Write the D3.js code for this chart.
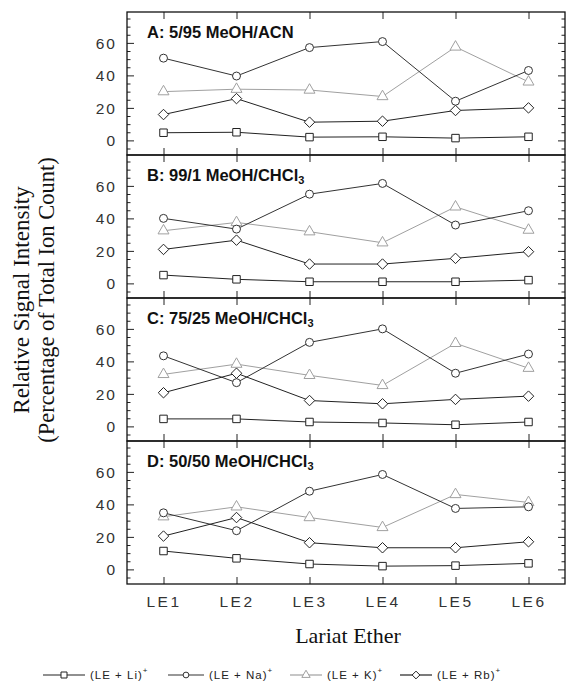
<!DOCTYPE html>
<html><head><meta charset="utf-8">
<script src="https://cdn.jsdelivr.net/npm/d3@7"></script>
<style>
html,body{margin:0;padding:0;background:#fff;}
svg{display:block;}
</style></head>
<body>
<svg id="chart" width="568" height="685"></svg>
<script>
// ---------- data ----------
const categories = ["LE1", "LE2", "LE3", "LE4", "LE5", "LE6"];
const panelLabels = ["A: 5/95 MeOH/ACN", "B: 99/1 MeOH/CHCl", "C: 75/25 MeOH/CHCl", "D: 50/50 MeOH/CHCl"];
const panelSubscripts = ["", "3", "3", "3"];
const seriesNames = ["Li", "Na", "K", "Rb"];
const legendLabels = ["(LE + Li)", "(LE + Na)", "(LE + K)", "(LE + Rb)"];
const yMajorTicks = [0, 20, 40, 60];

// Panel A: 5/95 MeOH/ACN
const liA = [4.7, 5.0, 2.0, 2.2, 1.4, 2.2];
const naA = [50.6, 39.6, 57.1, 60.8, 24.1, 43.0];
const kA  = [30.0, 31.5, 31.0, 27.0, 57.5, 36.0];
const rbA = [15.9, 25.7, 11.2, 11.8, 18.4, 20.0];
// Panel B: 99/1 MeOH/CHCl3
const liB = [5.1, 2.5, 1.0, 1.0, 1.0, 2.0];
const naB = [40.0, 33.4, 54.9, 61.5, 35.9, 44.7];
const kB  = [32.4, 37.5, 31.8, 25.0, 47.1, 32.8];
const rbB = [20.9, 26.6, 11.9, 11.9, 15.4, 19.5];
// Panel C: 75/25 MeOH/CHCl3
const liC = [4.6, 4.6, 2.7, 2.1, 1.0, 2.7];
const naC = [43.4, 26.9, 51.7, 60.0, 32.7, 44.5];
const kC  = [32.0, 38.3, 31.4, 25.2, 51.1, 35.8];
const rbC = [20.7, 32.7, 15.9, 13.9, 16.6, 18.6];
// Panel D: 50/50 MeOH/CHCl3
const liD = [11.3, 6.8, 3.3, 2.0, 2.3, 3.7];
const naD = [34.8, 23.8, 48.1, 58.4, 37.5, 38.5];
const kD  = [32.4, 38.5, 31.9, 25.8, 46.1, 41.2];
const rbD = [20.5, 31.9, 16.4, 13.3, 13.3, 17.0];

const panelData = [
  [liA, naA, kA, rbA],
  [liB, naB, kB, rbB],
  [liC, naC, kC, rbC],
  [liD, naD, kD, rbD]
];

// ---------- styles ----------
const seriesColor = {Li: "#222", Na: "#333", K: "#a0a0a0", Rb: "#222"};
const diamond = {draw(ctx, size){ const r = Math.sqrt(size)/2; ctx.moveTo(0,-r); ctx.lineTo(r,0); ctx.lineTo(0,r); ctx.lineTo(-r,0); ctx.closePath(); }};
const seriesSymbol = {Li: d3.symbolSquare, Na: d3.symbolCircle, K: d3.symbolTriangle, Rb: diamond};
const seriesSize = {Li: 56, Na: 50, K: 52, Rb: 110};
const legendSize = {Li: 36, Na: 26, K: 30, Rb: 60};

const svg = d3.select("#chart");
const pLeft = 127, pRight = 565, pTop = 12, pBottom = 584;
const nP = 4, ph = (pBottom - pTop) / nP;

const x = d3.scalePoint().domain(categories).range([pLeft, pRight]).padding(0.5);

panelData.forEach((pd, pi) => {
  const py0 = pTop + pi * ph, py1 = py0 + ph;
  const y = d3.scaleLinear().domain([-9, 79]).range([py1, py0]);
  const g = svg.append("g");

  // minor y ticks
  const minor = d3.range(-5, 80, 5).filter(v => v % 20 !== 0);
  g.append("g").attr("transform", `translate(${pLeft},0)`)
    .call(d3.axisLeft(y).tickValues(minor).tickSize(-3.5).tickFormat(""))
    .call(a => a.select(".domain").remove());
  g.append("g").attr("transform", `translate(${pRight},0)`)
    .call(d3.axisRight(y).tickValues(minor).tickSize(-3.5).tickFormat(""))
    .call(a => a.select(".domain").remove());
  // major y ticks
  g.append("g").attr("class", "ylab").attr("transform", `translate(${pLeft},0)`)
    .call(d3.axisLeft(y).tickValues(yMajorTicks).tickSize(-7).tickPadding(10))
    .call(a => a.select(".domain").remove());
  g.append("g").attr("transform", `translate(${pRight},0)`)
    .call(d3.axisRight(y).tickValues(yMajorTicks).tickSize(-7).tickFormat(""))
    .call(a => a.select(".domain").remove());
  // x ticks
  g.append("g").attr("class", pi === nP - 1 ? "xlab" : "").attr("transform", `translate(0,${py1})`)
    .call(d3.axisBottom(x).tickSize(-7).tickPadding(12).tickFormat(pi === nP - 1 ? (d => d) : ""))
    .call(a => a.select(".domain").remove());
  g.append("g").attr("transform", `translate(0,${py0})`)
    .call(d3.axisTop(x).tickSize(-7).tickFormat(""))
    .call(a => a.select(".domain").remove());

  g.selectAll(".tick line").attr("stroke", "#222").attr("stroke-width", 1);

  // frame
  g.append("rect").attr("x", pLeft).attr("y", py0).attr("width", pRight - pLeft).attr("height", ph)
    .attr("fill", "none").attr("stroke", "#111").attr("stroke-width", 1.3);

  // series (draw K first so dark lines on top)
  const order = [2, 1, 3, 0];
  order.forEach(si => {
    const name = seriesNames[si];
    const vals = pd[si];
    const pts = vals.map((v, i) => [x(categories[i]), y(v)]);
    g.append("path").attr("d", d3.line()(pts)).attr("fill", "none")
      .attr("stroke", seriesColor[name]).attr("stroke-width", 1);
    g.selectAll(null).data(vals).join("path")
      .attr("transform", (v, i) => `translate(${x(categories[i])},${y(v)})`)
      .attr("d", d3.symbol(seriesSymbol[name], seriesSize[name]))
      .attr("fill", "#fff").attr("stroke", seriesColor[name]).attr("stroke-width", 1);
  });

  // panel title
  const t = g.append("text").attr("x", 147).attr("y", py0 + 26)
    .attr("font-family", "Liberation Sans, Arial, sans-serif").attr("font-weight", "bold")
    .attr("font-size", 16.5).attr("fill", "#111").text(panelLabels[pi]);
  if (panelSubscripts[pi]) {
    t.append("tspan").attr("font-size", 11).attr("dy", 3).text(panelSubscripts[pi]);
  }
});

svg.selectAll(".ylab .tick text").attr("font-family", "Liberation Sans, Arial, sans-serif")
  .attr("font-size", 15.5).attr("letter-spacing", 2).attr("fill", "#333").attr("dy", "0.36em");
svg.selectAll(".xlab .tick text").attr("font-family", "Liberation Sans, Arial, sans-serif")
  .attr("font-size", 15.5).attr("letter-spacing", 2.5).attr("fill", "#333");

// axis titles
const serif = "Liberation Serif, Times New Roman, serif";
const cy = (pTop + pBottom) / 2 + 2;
svg.append("text").attr("transform", `translate(29,${cy}) rotate(-90)`).attr("text-anchor", "middle")
  .attr("font-family", serif).attr("font-size", 23).attr("fill", "#111").text("Relative Signal Intensity");
svg.append("text").attr("transform", `translate(54,${cy}) rotate(-90)`).attr("text-anchor", "middle")
  .attr("font-family", serif).attr("font-size", 22.5).attr("fill", "#111").text("(Percentage of Total Ion Count)");
svg.append("text").attr("x", (pLeft + pRight) / 2 + 2).attr("y", 643).attr("text-anchor", "middle")
  .attr("font-family", serif).attr("font-size", 22).attr("fill", "#111").text("Lariat Ether");

// legend
const legX = [43, 168, 290, 400];
const legLen = [42, 36, 32, 32];
const legY = 675;
const lg = svg.append("g");
seriesNames.forEach((name, i) => {
  const x0 = legX[i], x1 = x0 + legLen[i];
  lg.append("line").attr("x1", x0).attr("x2", x1).attr("y1", legY).attr("y2", legY)
    .attr("stroke", seriesColor[name]).attr("stroke-width", 1.2);
  lg.append("path").attr("transform", `translate(${(x0 + x1) / 2},${legY})`)
    .attr("d", d3.symbol(seriesSymbol[name], legendSize[name]))
    .attr("fill", "#fff").attr("stroke", seriesColor[name]).attr("stroke-width", 1);
  const t = lg.append("text").attr("x", x1 + 5).attr("y", legY + 4)
    .attr("font-family", "Liberation Sans, Arial, sans-serif").attr("font-size", 11.5)
    .attr("letter-spacing", 1).attr("fill", "#222").text(legendLabels[i]);
  t.append("tspan").attr("font-size", 8).attr("dy", -6).text("+");
});
</script>
</body></html>
